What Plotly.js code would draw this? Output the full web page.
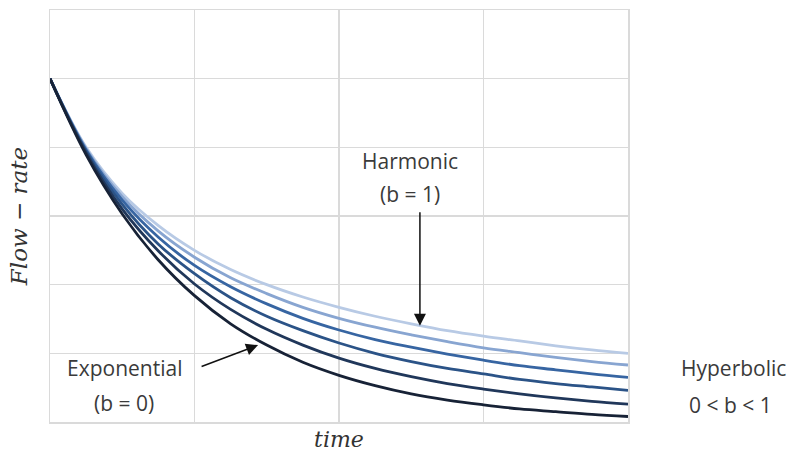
<!DOCTYPE html>
<html>
<head>
<meta charset="utf-8">
<script src="https://cdn.plot.ly/plotly-3.0.1.min.js"></script>
<style>html,body{margin:0;padding:0;background:#fff}#chart{width:792px;height:455px}</style>
</head>
<body>
<div id="chart"></div>
<script>
// time axis samples
var time = [0,0.25,0.5,0.75,1,1.25,1.5,1.75,2,2.25,2.5,2.75,3,3.25,3.5,3.75,4];
// flow-rate, one array per decline curve
var expB0   = [5.00,3.89,3.03,2.36,1.84,1.43,1.12,0.87,0.68,0.53,0.41,0.32,0.25,0.19,0.15,0.11,0.08];
var hypB02  = [5.00,3.92,3.10,2.49,2.01,1.64,1.35,1.12,0.93,0.78,0.66,0.56,0.48,0.41,0.35,0.30,0.26];
var hypB04  = [5.00,3.94,3.17,2.59,2.16,1.81,1.54,1.33,1.15,1.00,0.88,0.78,0.70,0.62,0.56,0.51,0.46];
var hypB06  = [5.00,3.96,3.23,2.69,2.28,1.97,1.72,1.51,1.34,1.20,1.09,0.99,0.90,0.82,0.76,0.70,0.65];
var hypB08  = [5.00,3.98,3.28,2.78,2.40,2.10,1.87,1.67,1.51,1.38,1.27,1.17,1.08,1.01,0.94,0.88,0.83];
var harmB1  = [5.00,4.00,3.33,2.86,2.50,2.22,2.00,1.82,1.67,1.54,1.43,1.33,1.25,1.18,1.11,1.05,1.00];

var seriesNames = ['b = 1','b = 0.8','b = 0.6','b = 0.4','b = 0.2','b = 0'];
var seriesData = [harmB1, hypB08, hypB06, hypB04, hypB02, expB0];
var seriesColors = ['#b8cae5','#88a5d1','#3765a2','#2b5387','#20375a','#172236'];

var traces = seriesData.map(function(d,i){
  return {x: time, y: d, type:'scatter', mode:'lines', name: seriesNames[i],
    line:{color: seriesColors[i], width:2.8, shape:'spline', smoothing:1}, hoverinfo:'skip'};
});

var txt = {family:'Open Sans, Liberation Sans, sans-serif', size:21, color:'#3a3a3a'};
function lbl(x,y,t){ return {xref:'paper',yref:'paper',x:x,y:y,text:t,showarrow:false,font:txt,xanchor:'center',yanchor:'middle'}; }
function px(p){ return (p-50)/578; }
function py(p){ return (422-p)/412; }

var layout = {
  width:792, height:455,
  margin:{l:50,r:164,t:10,b:33},
  paper_bgcolor:'#fff', plot_bgcolor:'#fff',
  showlegend:false,
  xaxis:{range:[0,4], dtick:1, tick0:0, showticklabels:false, ticks:'',
    showgrid:true, gridcolor:'#dadada', gridwidth:1.5, zeroline:false,
    showline:true, linecolor:'#dadada', linewidth:1.5, mirror:true,
    title:{text:'<i>time</i>', standoff:9, font:{family:'DejaVu Serif, Liberation Serif, serif', size:22, color:'#333'}}},
  yaxis:{range:[0,6], dtick:1, tick0:0, showticklabels:false, ticks:'',
    showgrid:true, gridcolor:'#dadada', gridwidth:1.5, zeroline:false,
    showline:true, linecolor:'#dadada', linewidth:1.5, mirror:true,
    title:{text:'<i>Flow</i> − <i>rate</i>', standoff:14, font:{family:'DejaVu Serif, Liberation Serif, serif', size:23, color:'#333'}}},
  annotations:[
    lbl(px(410), py(161), 'Harmonic'),
    lbl(px(410), py(194), '(b = 1)'),
    lbl(px(124), py(368), 'Exponential'),
    lbl(px(124), py(403), '(b = 0)'),
    lbl(px(733), py(368), 'Hyperbolic'),
    lbl(px(730), py(405), '0 &lt; b &lt; 1'),
    {xref:'x', yref:'y', x:2.56, y:1.40, ax:0, ay:-115, text:'', showarrow:true,
      arrowhead:2, arrowsize:1.6, arrowwidth:1.5, arrowcolor:'#111'},
    {xref:'x', yref:'y', x:1.44, y:1.12, ax:-58, ay:22, text:'', showarrow:true,
      arrowhead:2, arrowsize:1.6, arrowwidth:1.5, arrowcolor:'#111'}
  ]
};

Plotly.newPlot('chart', traces, layout, {staticPlot:true, displayModeBar:false});
</script>
</body>
</html>
